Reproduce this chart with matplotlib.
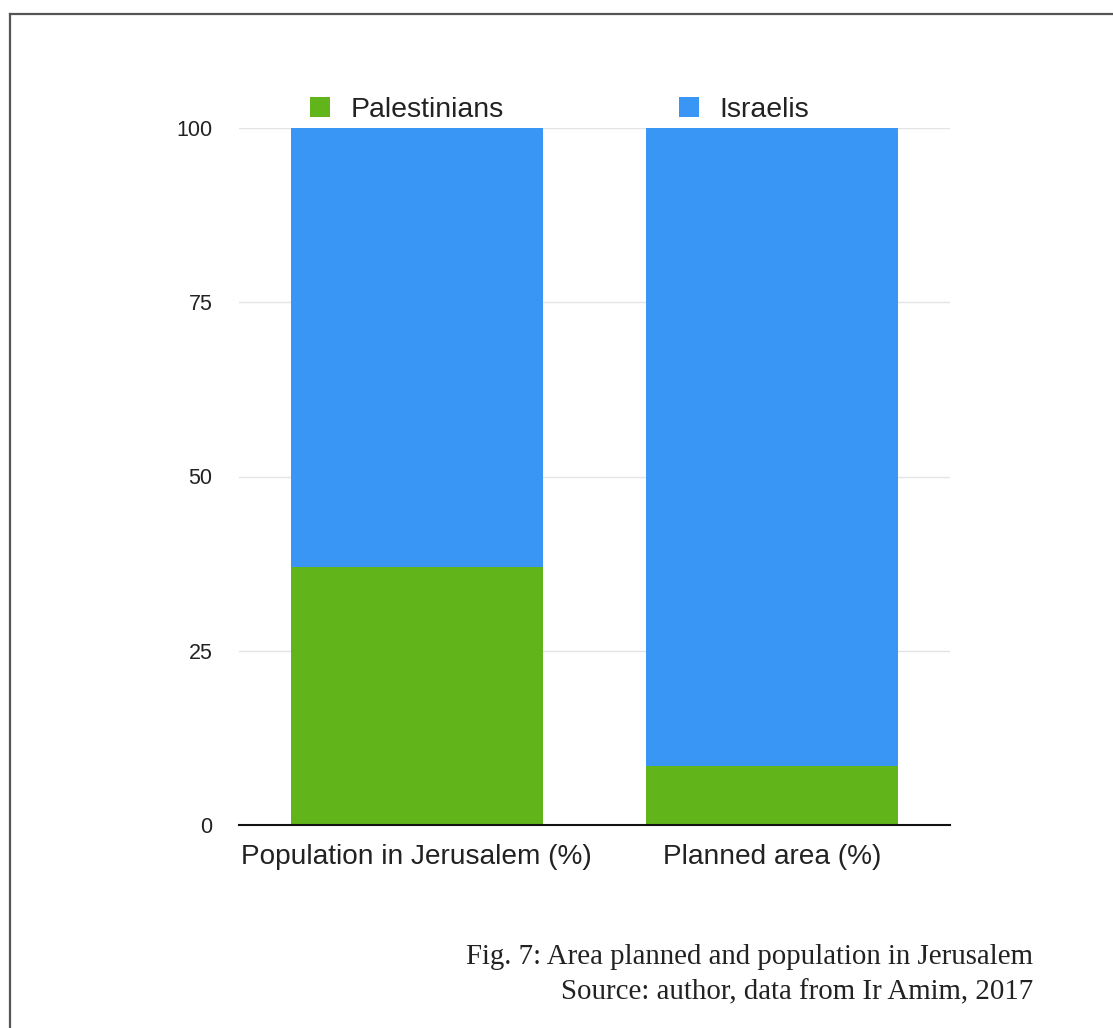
import matplotlib
matplotlib.use("Agg")
import matplotlib.pyplot as plt
from matplotlib.lines import Line2D
from matplotlib.patches import Patch

categories = ["Population in Jerusalem (%)", "Planned area (%)"]
palestinians = [37.0, 8.5]
israelis = [63.0, 91.5]
series_names = ["Palestinians", "Israelis"]
yticks = [0, 25, 50, 75, 100]
caption_lines = ["Fig. 7: Area planned and population in Jerusalem",
                 "Source: author, data from Ir Amim, 2017"]

green = "#61b51b"
blue = "#3996f5"

W, H = 1113, 1028
fig = plt.figure(figsize=(W / 100, H / 100), dpi=100)
fig.patch.set_facecolor("white")

ax = fig.add_axes([239 / W, 1 - 825 / H, (950 - 239) / W, (825 - 128) / H])
x = list(range(len(categories)))
ax.bar(x, palestinians, width=0.71, color=green, zorder=3)
ax.bar(x, israelis, width=0.71, bottom=palestinians, color=blue, zorder=3)

ax.set_xlim(-0.5, 1.5)
ax.set_ylim(0, 100)
ax.set_yticks(yticks)
ax.set_yticklabels([str(v) for v in yticks], fontsize=15.5, color="#222222",
                   family="Liberation Sans")
ax.set_xticks(x)
ax.set_xticklabels(categories, fontsize=20.2, color="#222222", family="Liberation Sans")
ax.tick_params(axis="y", length=0, pad=19)
ax.tick_params(axis="x", length=0, pad=14)
for s in ["top", "right", "left"]:
    ax.spines[s].set_visible(False)
ax.spines["bottom"].set_color("#111111")
ax.spines["bottom"].set_linewidth(1.5)
ax.spines["bottom"].set_zorder(4)
ax.yaxis.grid(True, color="#e4e4e4", linewidth=1.0, zorder=0)
ax.set_axisbelow(True)

handles = [Patch(facecolor=green, edgecolor="none"), Patch(facecolor=blue, edgecolor="none")]
leg = fig.legend(handles, series_names, loc="center left", ncol=2,
                 bbox_to_anchor=(310 / W, 1 - 110 / H), frameon=False,
                 prop={"family": "Liberation Sans", "size": 20.5},
                 handlelength=0.7, handleheight=0.7, handletextpad=0.72,
                 columnspacing=6.15, borderpad=0, borderaxespad=0)
for t in leg.get_texts():
    t.set_color("#222222")

fig.text(1033 / W, 1 - 957 / H, caption_lines[0], ha="right", va="center",
         fontsize=20.8, family="Liberation Serif", color="#222222")
fig.text(1033 / W, 1 - 992 / H, caption_lines[1], ha="right", va="center",
         fontsize=20.8, family="Liberation Serif", color="#222222")

# page frame (top and left edges)
fig.add_artist(Line2D([10 / W, 1], [1 - 14 / H, 1 - 14 / H], transform=fig.transFigure,
                      color="#555555", linewidth=1.6))
fig.add_artist(Line2D([10 / W, 10 / W], [0, 1 - 14 / H], transform=fig.transFigure,
                      color="#555555", linewidth=1.6))

fig.savefig("out.png", dpi=100, facecolor="white")
